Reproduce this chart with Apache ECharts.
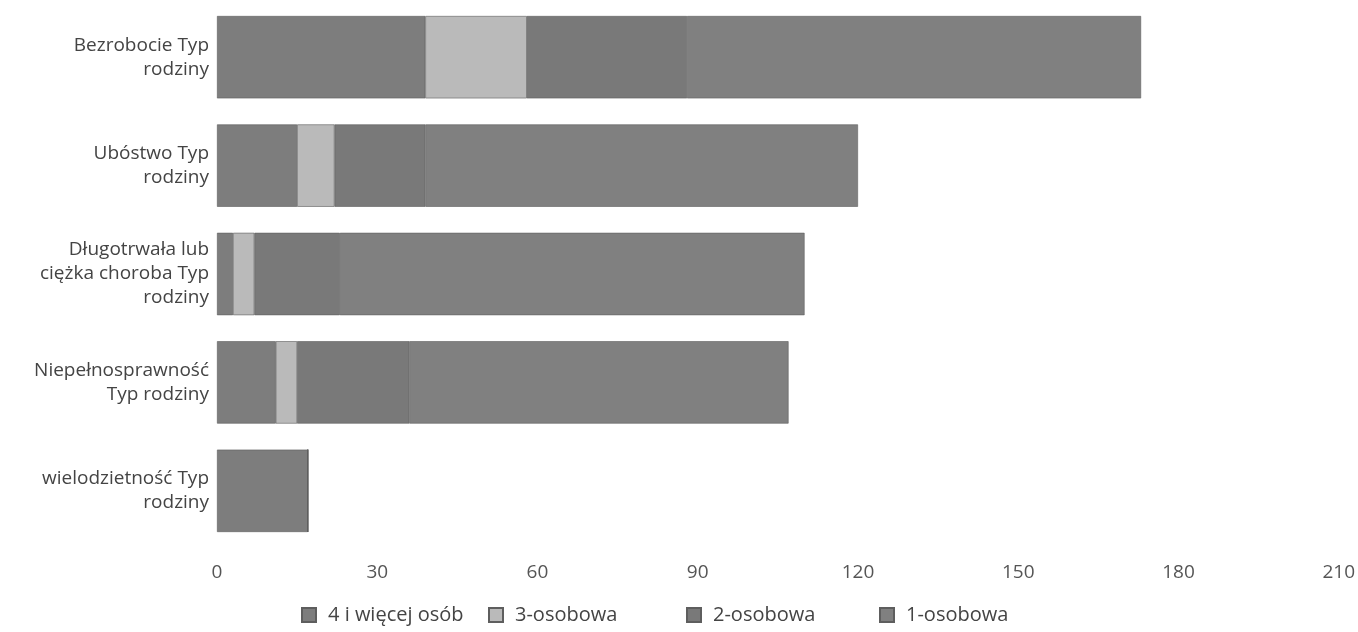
<!DOCTYPE html>
<html>
<head>
<meta charset="utf-8">
<script src="https://cdn.jsdelivr.net/npm/echarts@6/dist/echarts.min.js"></script>
<style>html,body{margin:0;padding:0;background:#fff;}#c{width:1358px;height:632px;}</style>
</head>
<body>
<div id="c"></div>
<script>
const categories = [
  "Bezrobocie Typ\nrodziny",
  "Ubóstwo Typ\nrodziny",
  "Długotrwała lub\nciężka choroba Typ\nrodziny",
  "Niepełnosprawność\nTyp rodziny",
  "wielodzietność Typ\nrodziny"
];
const seriesNames = ["4 i więcej osób", "3-osobowa", "2-osobowa", "1-osobowa"];
const s4plus = [39, 15, 3, 11, 17];
const s3 = [19, 7, 4, 4, 0];
const s2 = [30, 17, 16, 21, 0];
const s1 = [85, 81, 87, 71, 0];
const xTicks = [0, 30, 60, 90, 120, 150, 180, 210];

const colors = ['#7d7d7d', '#bababa', '#797979', '#808080'];
const values = [s4plus, s3, s2, s1];
const legendLeft = [296, 483, 681, 874];

const chart = echarts.init(document.getElementById('c'));
chart.setOption({
  animation: false,
  grid: { left: 217, right: 15, top: 3, bottom: 87, containLabel: false },
  xAxis: {
    type: 'value', min: xTicks[0], max: xTicks[xTicks.length - 1], interval: 30,
    axisLine: { show: false }, axisTick: { show: false }, splitLine: { show: false },
    axisLabel: { color: '#555', fontFamily: 'Open Sans', fontSize: 19, margin: 18 }
  },
  yAxis: {
    type: 'category', data: categories, inverse: true,
    axisLine: { show: false }, axisTick: { show: false },
    axisLabel: { color: '#444', fontFamily: 'Open Sans', fontSize: 19, lineHeight: 24, margin: 8, align: 'right' }
  },
  legend: seriesNames.map((n, i) => ({
    data: [n], left: legendLeft[i], top: 600, itemWidth: 14, itemHeight: 14, itemGap: 6,
    textStyle: { color: '#444', fontFamily: 'Open Sans', fontSize: 20, padding: [0, 0, 0, 7] }, icon: 'rect'
  })),
  series: seriesNames.map((n, i) => ({
    name: n, type: 'bar', stack: 'total', data: values[i],
    barCategoryGap: '24%',
    itemStyle: { color: colors[i], borderColor: '#5e5e5e', borderWidth: 0.6 }
  }))
});
</script>
</body>
</html>
